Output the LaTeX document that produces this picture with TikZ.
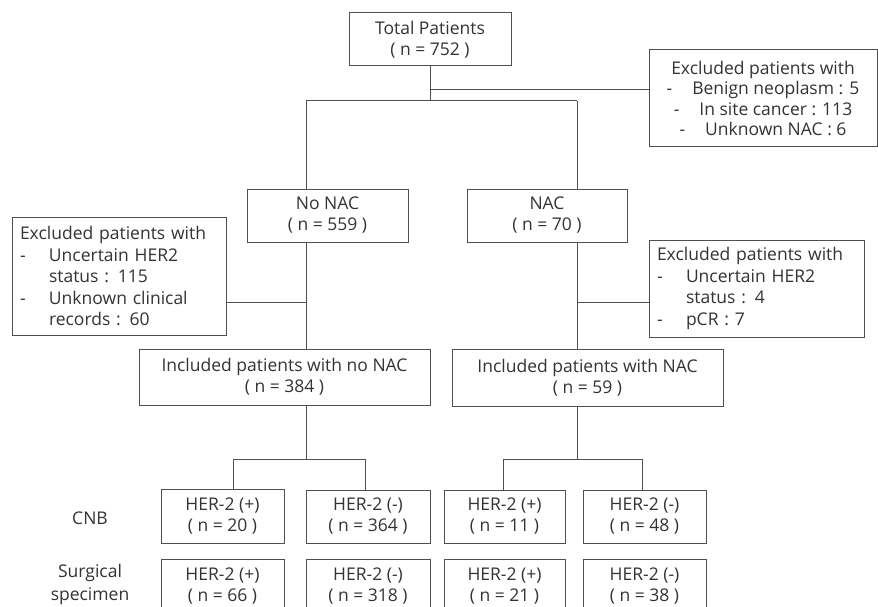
\documentclass[tikz,border=0pt]{standalone}
\usepackage{fontspec}
\setmainfont{Open Sans}
\usetikzlibrary{calc}
\definecolor{ink}{HTML}{333333}
\definecolor{edge}{HTML}{505050}
\tikzset{
  box/.style={draw=edge, line width=1pt, inner sep=0pt, text=ink, align=center,
    font=\fontsize{17.5}{21}\selectfont},
  lbox/.style={box, align=left},
  lab/.style={text=ink, align=center, font=\fontsize{17.5}{23}\selectfont},
  conn/.style={draw=edge, line width=1pt},
}
\newcommand{\dashitem}[1]{\makebox[29pt][l]{-}#1}
\newcommand{\hang}[1]{\hspace*{29pt}#1}
\begin{document}
\begin{tikzpicture}[x=1pt,y=-1pt]
\useasboundingbox (0,0) rectangle (878,607);
\fill[white] (0,0) rectangle (878,607);
\clip (0,0) rectangle (878,607);

% nodes
\node[box, minimum width=162pt, minimum height=53pt] (total) at (430,39.5)
  {Total Patients\\( n = 752 )};
\node[box, minimum width=228pt, minimum height=97pt,
      font=\fontsize{17.5}{20.5}\selectfont] (excl1) at (763,98.5)
  {Excluded patients with\\
   -\hspace{20pt}Benign neoplasm : 5\\
   -\hspace{20pt}In site cancer : 113\\
   -\hspace{20pt}Unknown NAC : 6};
\node[box, minimum width=161pt, minimum height=53pt] (nonac) at (327.5,215.5)
  {No NAC\\( n = 559 )};
\node[box, minimum width=160pt, minimum height=53pt] (nac) at (547,215.5)
  {NAC\\( n = 70 )};
\node[lbox, minimum width=214pt, minimum height=118pt, text width=198pt,
      font=\fontsize{17.5}{21.5}\selectfont] (excl2) at (119,276)
  {Excluded patients with\\
   \dashitem{Uncertain HER2}\\
   \hang{status : 115}\\
   \dashitem{Unknown clinical}\\
   \hang{records : 60}};
\node[lbox, minimum width=215pt, minimum height=97pt, text width=199pt,
      font=\fontsize{17.5}{21.5}\selectfont] (excl3) at (756.5,288.5)
  {Excluded patients with\\
   \dashitem{Uncertain HER2}\\
   \hang{status : 4}\\
   \dashitem{pCR : 7}};
\node[box, minimum width=291pt, minimum height=56pt] (inc1) at (284.5,377)
  {Included patients with no NAC\\( n = 384 )};
\node[box, minimum width=271pt, minimum height=57pt] (inc2) at (587.5,377.5)
  {Included patients with NAC\\( n = 59 )};

\node[box, minimum width=123pt, minimum height=54pt] (h1) at (222.5,516) {HER-2 (+)\\( n = 20 )};
\node[box, minimum width=124pt, minimum height=53pt] (h2) at (368,516.5) {HER-2 (-)\\( n = 364 )};
\node[box, minimum width=121pt, minimum height=53pt] (h3) at (504.5,516.5) {HER-2 (+)\\( n = 11 )};
\node[box, minimum width=123pt, minimum height=53pt] (h4) at (644.5,516.5) {HER-2 (-)\\( n = 48 )};

\node[box, minimum width=123pt, minimum height=54pt] (s1) at (222.5,586) {HER-2 (+)\\( n = 66 )};
\node[box, minimum width=124pt, minimum height=54pt] (s2) at (368,586) {HER-2 (-)\\( n = 318 )};
\node[box, minimum width=121pt, minimum height=54pt] (s3) at (504.5,586) {HER-2 (+)\\( n = 21 )};
\node[box, minimum width=123pt, minimum height=54pt] (s4) at (644.5,586) {HER-2 (-)\\( n = 38 )};

\node[lab] (cnb) at (90,518) {CNB};
\node[lab] (surg) at (90,584) {Surgical\\specimen};

% junction coordinates
\coordinate (j0) at (430,101);
\coordinate (je1) at (430,90);
\coordinate (jl) at (306,101);
\coordinate (jr) at (577,101);
\coordinate (je2) at (306,302);
\coordinate (je3) at (577,302);
\coordinate (b1) at (306,459);
\coordinate (b1l) at (233,459);
\coordinate (b1r) at (365,459);
\coordinate (b2) at (577,459);
\coordinate (b2l) at (503,459);
\coordinate (b2r) at (642,459);

% connectors
\draw[conn] (total.south) -- (j0);
\draw[conn] (je1) -- (je1 -| excl1.west);
\draw[conn] (jl) -- (jr);
\draw[conn] (jl) -- (jl |- nonac.north);
\draw[conn] (jr) -- (jr |- nac.north);
\draw[conn] (jl |- nonac.south) -- (jl |- inc1.north);
\draw[conn] (jr |- nac.south) -- (jr |- inc2.north);
\draw[conn] (je2 -| excl2.east) -- (je2);
\draw[conn] (je3) -- (je3 -| excl3.west);
\draw[conn] (b1 |- inc1.south) -- (b1);
\draw[conn] (b1l |- h1.north) -- (b1l) -- (b1r) -- (b1r |- h2.north);
\draw[conn] (b2 |- inc2.south) -- (b2);
\draw[conn] (b2l |- h3.north) -- (b2l) -- (b2r) -- (b2r |- h4.north);
\end{tikzpicture}
\end{document}
